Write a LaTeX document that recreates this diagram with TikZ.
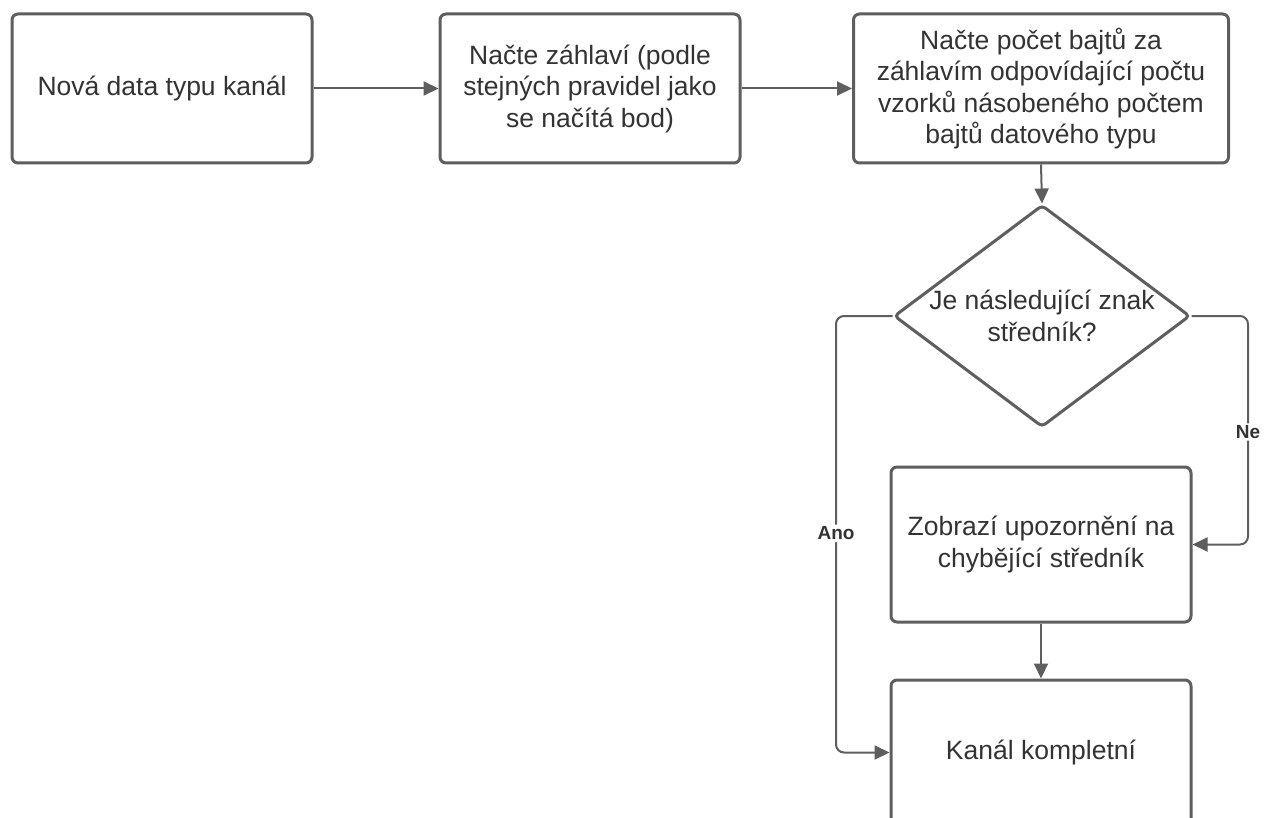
\documentclass[tikz,border=0pt]{standalone}
\usepackage{fontspec}
\setmainfont{Liberation Sans}
\usetikzlibrary{shapes.geometric,arrows.meta}
\definecolor{edge}{HTML}{5E5E5E}
\definecolor{ink}{HTML}{333333}
\begin{document}
\begin{tikzpicture}[x=1pt,y=-1pt,
  box/.style={draw=edge, line width=3pt, rounded corners=6pt, fill=white,
    text=ink, align=center, inner sep=0pt,
    font=\fontsize{26.5}{31.5}\selectfont},
  flow/.style={draw=edge, line width=2pt, rounded corners=8pt,
    -{Triangle[length=15pt,width=14pt]}},
  tag/.style={fill=white, text=ink, inner sep=2pt,
    font=\fontsize{19}{22}\selectfont\bfseries}]
\useasboundingbox (0,0) rectangle (1266,818);

% process steps
\node[box, minimum width=300pt, minimum height=149pt] (start) at (162,88.5)
  {Nová data typu kanál};
\node[box, minimum width=300pt, minimum height=149pt] (head) at (590,88.5)
  {Načte záhlaví (podle\\stejných pravidel jako\\se načítá bod)};
\node[box, minimum width=375pt, minimum height=149pt] (bytes) at (1041,88.5)
  {Načte počet bajtů za\\záhlavím odpovídající počtu\\vzorků násobeného počtem\\bajtů datového typu};

% decision: outline and its text set separately so the text may overhang
\node[draw=edge, line width=3pt, fill=white, inner sep=0pt,
  minimum width=296pt, minimum height=222pt, diamond, aspect=1.33,
  rounded corners=4pt] (check) at (1042,316) {};
\node[text=ink, align=center, font=\fontsize{26.5}{31.5}\selectfont]
  (checktext) at (1042,316) {Je následující znak\\středník?};

\node[box, minimum width=300pt, minimum height=155pt] (warn) at (1041,544.5)
  {Zobrazí upozornění na\\chybějící středník};
\node[box, minimum width=300pt, minimum height=145pt] (done) at (1041,752.5)
  {Kanál kompletní};

\coordinate (yesbend) at (836,316);
\coordinate (nobend) at (1248,316);

% connectors
\draw[flow] (start.east) -- (head.west);
\draw[flow] (head.east) -- (bytes.west);
\draw[flow] (bytes.south) -- (check.north);
\draw[flow] (check.west) -- (yesbend) |- (done.west)
  node[tag, pos=0.249] {Ano};
\draw[flow] (check.east) -- (nobend) |- (warn.east)
  node[tag, pos=0.254] {Ne};
\draw[flow] (warn.south) -- (done.north);
\end{tikzpicture}
\end{document}
